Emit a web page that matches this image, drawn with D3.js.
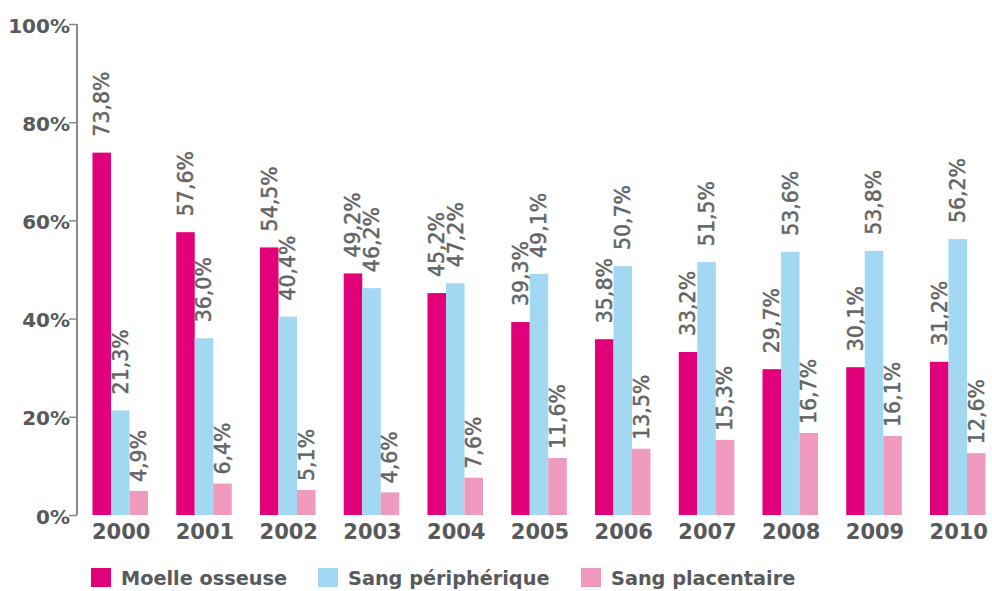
<!DOCTYPE html>
<html><head><meta charset="utf-8">
<script src="https://cdn.jsdelivr.net/npm/d3@7"></script>
<style>body{margin:0;background:#fff}svg{display:block}</style>
</head><body>
<svg id="c" width="992" height="591"></svg>
<script>
const years = ["2000","2001","2002","2003","2004","2005","2006","2007","2008","2009","2010"];
const seriesNames = ["Moelle osseuse","Sang périphérique","Sang placentaire"];
const moelle = [73.8,57.6,54.5,49.2,45.2,39.3,35.8,33.2,29.7,30.1,31.2];
const peripherique = [21.3,36.0,40.4,46.2,47.2,49.1,50.7,51.5,53.6,53.8,56.2];
const placentaire = [4.9,6.4,5.1,4.6,7.6,11.6,13.5,15.3,16.7,16.1,12.6];
const yTicks = [0,20,40,60,80,100];

const colors = ["#e2007a","#a3d8f2","#f19ac0"];
const labelGap = [16,16,9];
const series = [moelle, peripherique, placentaire];

const svg = d3.select("#c");
const textCol = "#58595b";

const y = d3.scaleLinear().domain([0,100]).range([515,24]);
const x = d3.scaleBand().domain(years).range([84.1,993.9]).paddingInner(0.337).paddingOuter(0.1);
const xs = d3.scaleBand().domain(d3.range(3)).range([0,x.bandwidth()]);

// axis
const ax = svg.append("g").attr("transform","translate(77,0)")
  .call(d3.axisLeft(y).tickValues(yTicks).tickSize(8).tickPadding(-1).tickFormat(d=>d+"%"));
ax.select(".domain").attr("stroke","#8a8a8a").attr("stroke-width",2).attr("d","M0,515V24");
ax.selectAll(".tick line").attr("stroke","#8a8a8a").attr("stroke-width",1.5);
ax.selectAll(".tick text").attr("fill",textCol).attr("font-family","DejaVu Sans").attr("font-weight","bold").attr("font-size","20px").attr("dy","0.4em");

// bars
const g = svg.append("g");
years.forEach((yr,i)=>{
  series.forEach((s,k)=>{
    const v = s[i];
    const bx = x(yr)+xs(k);
    g.append("rect").attr("x",bx).attr("y",y(v)).attr("width",xs.bandwidth()).attr("height",y(0)-y(v)).attr("fill",colors[k]);
    const cx = bx + xs.bandwidth()/2;
    const ty = y(v)-labelGap[k];
    g.append("text").attr("transform",`translate(${cx},${ty}) rotate(-90)`)
      .attr("dy","0.36em").attr("text-anchor","start")
      .attr("font-family","DejaVu Sans").attr("font-size","20.5px").attr("fill","#636466")
      .attr("stroke","#636466").attr("stroke-width",0.5)
      .text(v.toFixed(1).replace(".",",")+"%");
  });
  svg.append("text").attr("x",x(yr)+x.bandwidth()/2+1).attr("y",539)
    .attr("text-anchor","middle").attr("font-family","DejaVu Sans").attr("font-weight","bold")
    .attr("font-size","21px").attr("fill",textCol).text(yr);
});

// legend
const legX = [91,318,581];
const lg = svg.append("g");
seriesNames.forEach((n,k)=>{
  lg.append("rect").attr("x",legX[k]).attr("y",568).attr("width",20).attr("height",19).attr("fill",colors[k]);
  lg.append("text").attr("x",legX[k]+30).attr("y",585).attr("font-family","DejaVu Sans").attr("font-weight","bold")
    .attr("font-size","19.3px").attr("fill",textCol).text(n);
});
</script>
</body></html>
